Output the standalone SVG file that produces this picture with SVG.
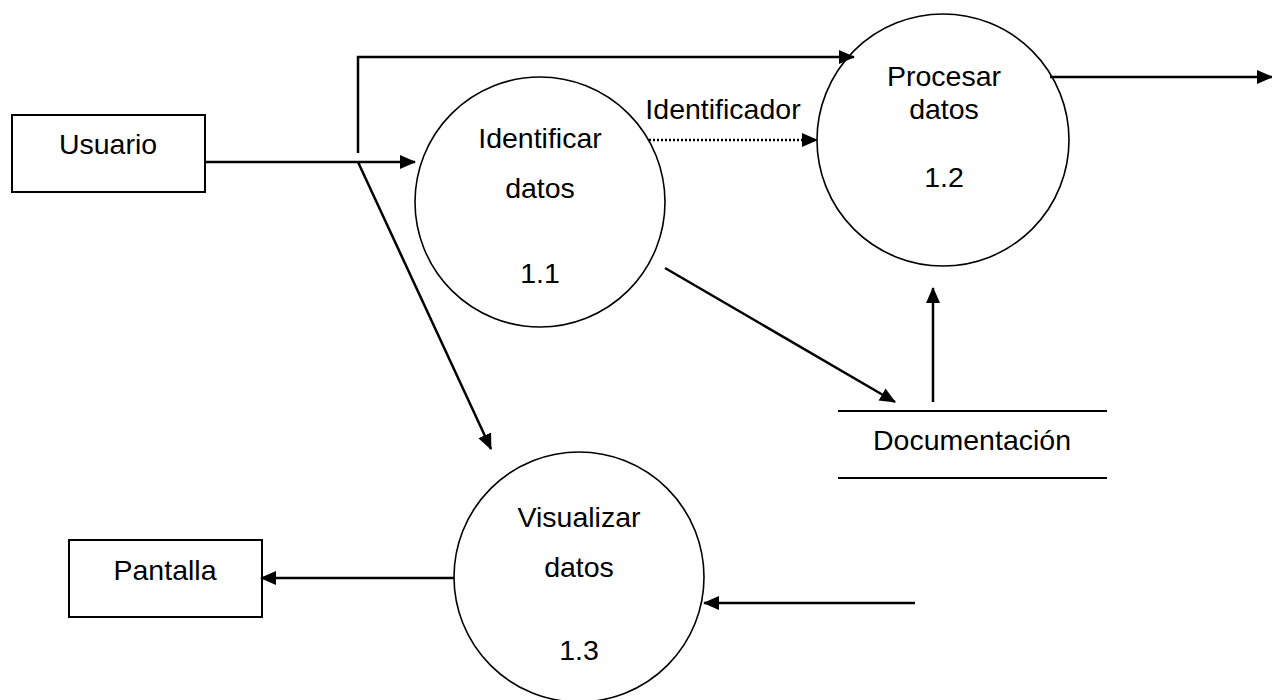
<svg xmlns="http://www.w3.org/2000/svg" width="1272" height="700" viewBox="0 0 1272 700">
<style>
.box{fill:#fff;stroke:#000;stroke-width:2}
.proc{fill:#fff;stroke:#000;stroke-width:1.6}
.t{font-family:"Liberation Sans",Arial,sans-serif;font-size:28.5px;fill:#000;text-anchor:middle}
.c{fill:none;stroke:#000;stroke-width:2.5}
.dot{stroke-dasharray:2 2}
</style>
<defs>
<marker id="ah" markerUnits="userSpaceOnUse" markerWidth="17" markerHeight="15" refX="15" refY="7" orient="auto">
<path d="M0,0 L16,7 L0,14 z" fill="#000"/>
</marker>
</defs>
<g id="usuario"><rect class="box" x="12" y="115" width="193" height="77"/><text class="t" x="108" y="154">Usuario</text></g>
<g id="pantalla"><rect class="box" x="69" y="540" width="193" height="77"/><text class="t" x="165" y="580">Pantalla</text></g>
<g id="p11"><circle class="proc" cx="540" cy="202" r="125"/><text class="t" x="540" y="148">Identificar</text><text class="t" x="540" y="198">datos</text><text class="t" x="540" y="283">1.1</text></g>
<g id="p12"><circle class="proc" cx="943" cy="140" r="126"/><text class="t" x="944" y="86">Procesar</text><text class="t" x="944" y="119">datos</text><text class="t" x="944" y="187">1.2</text></g>
<g id="p13"><circle class="proc" cx="579" cy="577" r="125"/><text class="t" x="579" y="527">Visualizar</text><text class="t" x="579" y="577">datos</text><text class="t" x="579" y="660">1.3</text></g>
<g id="documentacion"><line x1="838" y1="411" x2="1107" y2="411" stroke="#000" stroke-width="2"/><line x1="838" y1="478" x2="1107" y2="478" stroke="#000" stroke-width="2"/><text class="t" x="972" y="450">Documentación</text></g>
<g id="connectors">
<line class="c" x1="205" y1="162" x2="415" y2="162" marker-end="url(#ah)"/>
<polyline class="c" points="358,153 358,57 854,57" marker-end="url(#ah)"/>
<line class="c" x1="358" y1="162" x2="491" y2="449" marker-end="url(#ah)"/>
<line class="c dot" x1="649" y1="140" x2="817" y2="140" marker-end="url(#ah)"/>
<text class="t" x="723" y="119">Identificador</text>
<line class="c" x1="1050" y1="77" x2="1272" y2="77" marker-end="url(#ah)"/>
<line class="c" x1="665" y1="268" x2="895" y2="402" marker-end="url(#ah)"/>
<line class="c" x1="933" y1="402" x2="933" y2="288" marker-end="url(#ah)"/>
<line class="c" x1="454" y1="578" x2="261" y2="578" marker-end="url(#ah)"/>
<line class="c" x1="915" y1="603" x2="704" y2="603" marker-end="url(#ah)"/>
</g>
</svg>
